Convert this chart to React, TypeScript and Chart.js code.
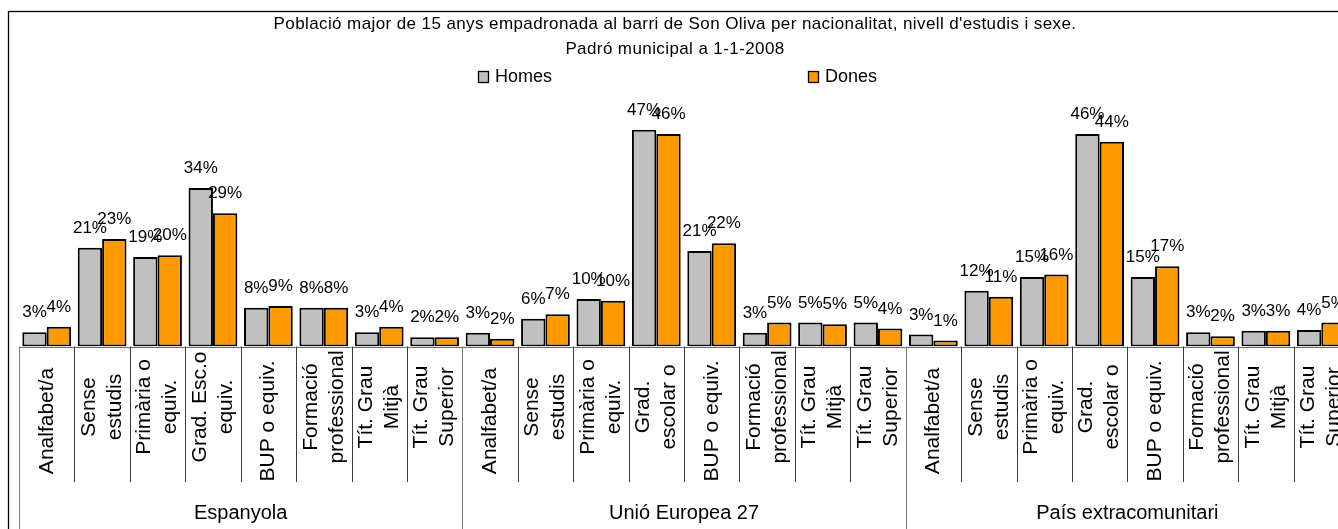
import React, { useEffect, useRef } from "react";
import { Chart, registerables } from "chart.js";

Chart.register(...registerables);

// ---------- data ----------
const TITLE_LINES = [
  "Població major de 15 anys empadronada al barri de Son Oliva per nacionalitat, nivell d'estudis i sexe.",
  "Padró municipal a 1-1-2008",
];
const SERIES_NAMES = ["Homes", "Dones"];
const NATIONALITIES = ["Espanyola", "Unió Europea 27", "País extracomunitari"];

const LEVELS_ESPANYOLA = [
  ["Analfabet/a"],
  ["Sense", "estudis"],
  ["Primària o", "equiv."],
  ["Grad. Esc.o", "equiv."],
  ["BUP o equiv."],
  ["Formació", "professional"],
  ["Tít. Grau", "Mitjà"],
  ["Tít. Grau", "Superior"],
];
const LEVELS_OTHER = [
  ["Analfabet/a"],
  ["Sense", "estudis"],
  ["Primària o", "equiv."],
  ["Grad.", "escolar o"],
  ["BUP o equiv."],
  ["Formació", "professional"],
  ["Tít. Grau", "Mitjà"],
  ["Tít. Grau", "Superior"],
];

// percentages
const HOMES_ESPANYOLA = [3.1, 21.4, 19.4, 34.4, 8.4, 8.4, 3.1, 2.0];
const DONES_ESPANYOLA = [4.3, 23.3, 19.8, 28.9, 8.8, 8.4, 4.3, 2.0];
const HOMES_UE27 = [3.0, 6.0, 10.3, 47.0, 20.7, 3.0, 5.2, 5.2];
const DONES_UE27 = [1.7, 7.0, 9.9, 46.1, 22.4, 5.2, 4.8, 3.9];
const HOMES_EXTRA = [2.6, 12.1, 15.1, 46.1, 15.1, 3.1, 3.4, 3.6];
const DONES_EXTRA = [1.3, 10.8, 15.6, 44.4, 17.4, 2.2, 3.4, 5.2];

const Y_MAX = 50;

// ---------- derived tables ----------
const LEVELS_BY_GROUP = [LEVELS_ESPANYOLA, LEVELS_OTHER, LEVELS_OTHER];
const CATEGORY_LINES: string[][] = LEVELS_BY_GROUP.flat();
const CATEGORY_LABELS = CATEGORY_LINES.map((l) => l.join(" "));
const HOMES = [...HOMES_ESPANYOLA, ...HOMES_UE27, ...HOMES_EXTRA];
const DONES = [...DONES_ESPANYOLA, ...DONES_UE27, ...DONES_EXTRA];

// ---------- styles ----------
const FONT = '"Liberation Sans", Arial, Helvetica, sans-serif';
const COLOR_HOMES = "#C0C0C0";
const COLOR_DONES = "#FF9900";
const CANVAS_W = 1360;
const CANVAS_H = 540;

const decorPlugin = {
  id: "excelDecor",
  beforeDraw(chart: any) {
    const ctx = chart.ctx;
    ctx.save();
    ctx.fillStyle = "#ffffff";
    ctx.fillRect(0, 0, chart.width, chart.height);
    ctx.restore();
  },
  afterDraw(chart: any) {
    const ctx = chart.ctx as CanvasRenderingContext2D;
    const area = chart.chartArea;
    const xs = chart.scales.x;
    const n = CATEGORY_LINES.length;
    const catW = (area.right - area.left) / n;
    ctx.save();

    // outer frame
    ctx.strokeStyle = "#000";
    ctx.lineWidth = 1.3;
    ctx.strokeRect(8.5, 11.5, 1334, 600);

    // title
    ctx.fillStyle = "#000";
    ctx.textAlign = "center";
    ctx.textBaseline = "middle";
    ctx.font = `17px ${FONT}`;
    (ctx as any).letterSpacing = "0.4px";
    ctx.fillText(TITLE_LINES[0], 675, 24);
    ctx.fillText(TITLE_LINES[1], 675, 49);
    (ctx as any).letterSpacing = "0px";

    // legend
    const legendBoxX = [478.5, 808.5];
    ctx.font = `18px ${FONT}`;
    ctx.textAlign = "left";
    chart.data.datasets.forEach((ds: any, i: number) => {
      ctx.fillStyle = ds.backgroundColor;
      ctx.fillRect(legendBoxX[i], 71.5, 10, 11);
      ctx.strokeStyle = "#000";
      ctx.lineWidth = 1.3;
      ctx.strokeRect(legendBoxX[i], 71.5, 10, 11);
      ctx.fillStyle = "#000";
      ctx.fillText(ds.label, legendBoxX[i] + 16.5, 77.5);
    });

    // axis line
    ctx.strokeStyle = "#6e6e6e";
    ctx.lineWidth = 1;
    ctx.beginPath();
    ctx.moveTo(area.left, Math.round(area.bottom) + 0.5);
    ctx.lineTo(area.right, Math.round(area.bottom) + 0.5);
    ctx.stroke();

    // separators
    for (let i = 0; i <= n; i++) {
      const bx =
        i < n ? xs.getPixelForValue(i) - catW / 2 : xs.getPixelForValue(n - 1) + catW / 2;
      const x = Math.round(bx) + 0.5;
      const isGroup = i % 8 === 0;
      ctx.strokeStyle = isGroup ? "#7a7a7a" : "#3a3a3a";
      ctx.beginPath();
      ctx.moveTo(x, area.bottom);
      ctx.lineTo(x, isGroup ? chart.height : 482);
      ctx.stroke();
    }

    // category labels (rotated)
    ctx.fillStyle = "#000";
    ctx.font = `21px ${FONT}`;
    ctx.textAlign = "center";
    ctx.textBaseline = "middle";
    const lineH = 26;
    CATEGORY_LINES.forEach((lines, i) => {
      const cx = xs.getPixelForValue(i) - 1;
      const cy = lines.length > 1 ? 407 : 421;
      ctx.save();
      ctx.translate(cx, cy);
      ctx.rotate(-Math.PI / 2);
      lines.forEach((line, k) => {
        ctx.fillText(line, 0, (k - (lines.length - 1) / 2) * lineH + 1);
      });
      ctx.restore();
    });

    // group labels
    ctx.font = `20px ${FONT}`;
    NATIONALITIES.forEach((name, g) => {
      const x0 = xs.getPixelForValue(g * 8);
      const x1 = xs.getPixelForValue(g * 8 + 7);
      ctx.fillText(name, (x0 + x1) / 2, 513);
    });

    ctx.restore();
  },
  afterDatasetsDraw(chart: any) {
    const ctx = chart.ctx as CanvasRenderingContext2D;
    ctx.save();
    ctx.fillStyle = "#000";
    ctx.font = `17px ${FONT}`;
    ctx.textAlign = "center";
    ctx.textBaseline = "alphabetic";
    chart.data.datasets.forEach((ds: any, di: number) => {
      const meta = chart.getDatasetMeta(di);
      meta.data.forEach((bar: any, j: number) => {
        const v = ds.data[j];
        ctx.fillText(`${Math.round(v)}%`, bar.x, bar.y - 15);
      });
    });
    ctx.restore();
  },
};

export default function App() {
  const canvasRef = useRef<HTMLCanvasElement | null>(null);

  useEffect(() => {
    if (!canvasRef.current) return;
    const chart = new Chart(canvasRef.current, {
      type: "bar",
      data: {
        labels: CATEGORY_LABELS,
        datasets: [
          {
            label: SERIES_NAMES[0],
            data: HOMES,
            backgroundColor: COLOR_HOMES,
            borderColor: "#000",
            borderWidth: 2,
            borderSkipped: false,
            categoryPercentage: 0.88,
            barPercentage: 1,
          },
          {
            label: SERIES_NAMES[1],
            data: DONES,
            backgroundColor: COLOR_DONES,
            borderColor: "#000",
            borderWidth: 2,
            borderSkipped: false,
            categoryPercentage: 0.88,
            barPercentage: 1,
          },
        ],
      },
      options: {
        responsive: false,
        maintainAspectRatio: false,
        animation: false,
        devicePixelRatio: 1,
        layout: { padding: { left: 19, right: CANVAS_W - 1349, top: 116, bottom: CANVAS_H - 346.5 } },
        scales: {
          x: { display: false },
          y: { display: false, min: 0, max: Y_MAX },
        },
        plugins: {
          legend: { display: false },
          title: { display: false },
          tooltip: { enabled: false },
        },
      },
      plugins: [decorPlugin],
    } as any);
    return () => chart.destroy();
  }, []);

  return (
    <div
      style={{
        position: "fixed",
        left: 0,
        top: 0,
        width: "100vw",
        height: "100vh",
        overflow: "hidden",
        background: "#fff",
      }}
    >
      <canvas
        ref={canvasRef}
        width={CANVAS_W}
        height={CANVAS_H}
        style={{ display: "block", width: CANVAS_W, height: CANVAS_H }}
      />
    </div>
  );
}
